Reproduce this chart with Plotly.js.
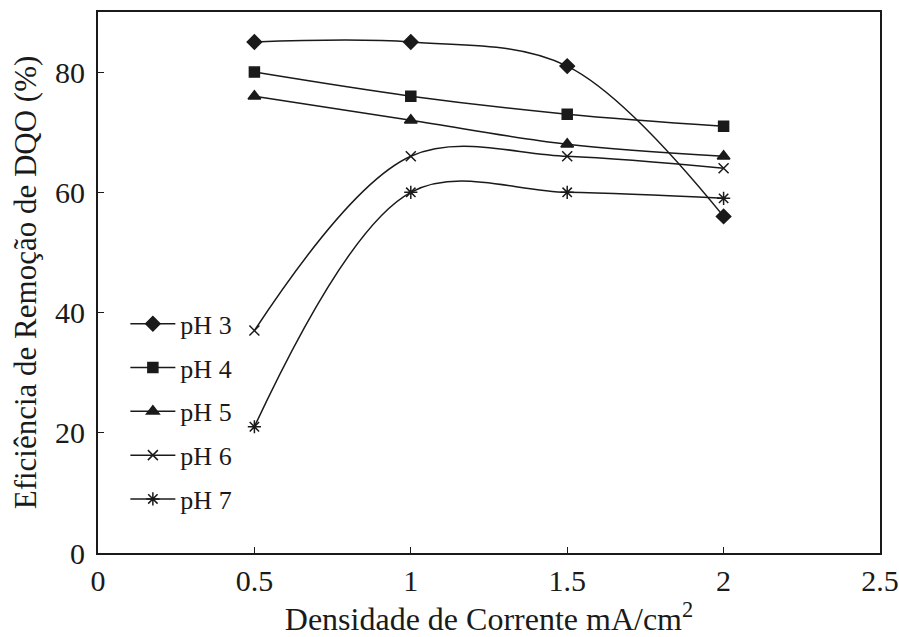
<!DOCTYPE html>
<html>
<head>
<meta charset="utf-8">
<script src="https://cdn.plot.ly/plotly-3.0.1.min.js"></script>
<style>
  html, body { margin: 0; padding: 0; background: #ffffff; }
  #chart { width: 899px; height: 637px; }
</style>
</head>
<body>
<div id="chart"></div>
<script>
// Current density (mA/cm²) and COD removal efficiency (%) for each pH
const densidade = [0.5, 1, 1.5, 2];
const pH3 = [85, 85, 81, 56];
const pH4 = [80, 76, 73, 71];
const pH5 = [76, 72, 68, 66];
const pH6 = [37, 66, 66, 64];
const pH7 = [21, 60, 60, 59];
const seriesNames = ["pH 3", "pH 4", "pH 5", "pH 6", "pH 7"];
const seriesValues = [pH3, pH4, pH5, pH6, pH7];
const xTicks = [0, 0.5, 1, 1.5, 2, 2.5];
const yTicks = [0, 20, 40, 60, 80];

const ink = "#1a1a1a";
const serif = "Liberation Serif, Times New Roman, serif";

const symbols = [
  { symbol: "diamond", size: 11 },
  { symbol: "square", size: 10 },
  { symbol: "triangle-up", size: 11 },
  { symbol: "x-thin-open", size: 10 },
  { symbol: "asterisk-open", size: 11 }
];

const traces = seriesNames.map((name, i) => ({
  type: "scatter",
  mode: "lines+markers",
  name: name,
  legendgroup: name,
  x: densidade,
  y: seriesValues[i],
  line: { color: ink, width: 1.5, shape: "spline", smoothing: 1 },
  marker: {
    symbol: symbols[i].symbol,
    size: symbols[i].size,
    color: ink,
    line: { color: ink, width: 1.5 }
  }
}));

const layout = {
  width: 899,
  height: 637,
  margin: { l: 98, r: 19, t: 12, b: 84 },
  paper_bgcolor: "#ffffff",
  plot_bgcolor: "#ffffff",
  font: { family: serif, color: ink, size: 30 },
  showlegend: true,
  legend: {
    x: 0.035, y: 0.467,
    xanchor: "left", yanchor: "top",
    bgcolor: "rgba(0,0,0,0)",
    font: { family: serif, size: 26, color: ink },
    itemwidth: 45,
    tracegroupgap: 7,
    traceorder: "grouped"
  },
  xaxis: {
    range: [0, 2.5],
    tickvals: xTicks,
    ticktext: xTicks.map(String),
    ticks: "inside",
    ticklen: 6,
    tickwidth: 1,
    tickcolor: ink,
    showline: true,
    linecolor: ink,
    linewidth: 2,
    mirror: true,
    showgrid: false,
    zeroline: false,
    tickfont: { family: serif, size: 30, color: ink },
    title: { text: "Densidade de Corrente mA/cm<sup>2</sup>", font: { family: serif, size: 32, color: ink }, standoff: 8 }
  },
  yaxis: {
    range: [0, 90],
    tickvals: yTicks,
    ticks: "inside",
    ticklen: 6,
    tickwidth: 1,
    tickcolor: ink,
    ticklabelstandoff: 5,
    showline: true,
    linecolor: ink,
    linewidth: 2,
    mirror: true,
    showgrid: false,
    zeroline: false,
    tickfont: { family: serif, size: 30, color: ink },
    title: { text: "Eficiência de Remoção de DQO (%)", font: { family: serif, size: 31, color: ink }, standoff: 9 }
  }
};

Plotly.newPlot("chart", traces, layout, { displayModeBar: false, staticPlot: true });
</script>
</body>
</html>
